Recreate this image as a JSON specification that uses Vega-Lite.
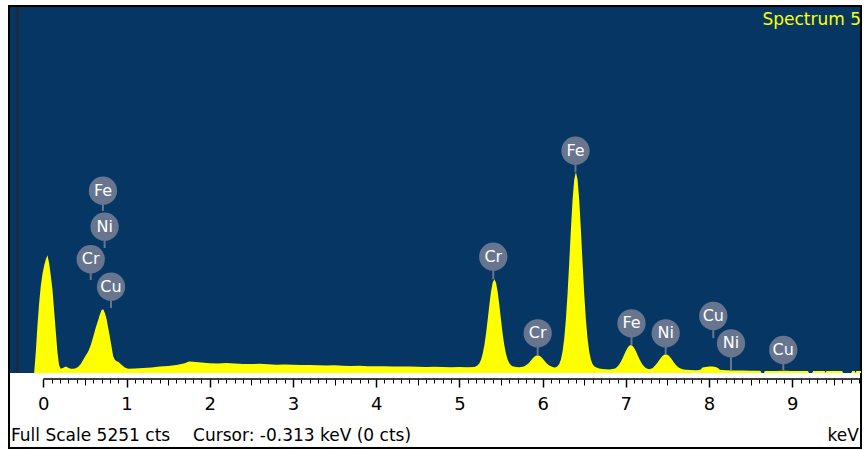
{
  "$schema": "https://vega.github.io/schema/vega-lite/v6.json",
  "width": 852,
  "height": 442,
  "autosize": {"type": "none"},
  "padding": {"left": 9, "top": 6, "right": 3, "bottom": 2},
  "background": "#ffffff",
  "config": {"view": {"stroke": "#000000", "strokeWidth": 2, "fill": "#ffffff"}},
  "datasets": {
    "spectrum": [
      {"keV": -0.41, "cts": 0}, {"keV": -0.11, "cts": 0}, {"keV": -0.09, "cts": 300}, {"keV": -0.07, "cts": 680},
      {"keV": -0.05, "cts": 1000}, {"keV": -0.03, "cts": 1250}, {"keV": -0.01, "cts": 1420}, {"keV": 0.01, "cts": 1540},
      {"keV": 0.03, "cts": 1630}, {"keV": 0.05, "cts": 1690}, {"keV": 0.07, "cts": 1580}, {"keV": 0.09, "cts": 1400},
      {"keV": 0.11, "cts": 1200}, {"keV": 0.13, "cts": 900}, {"keV": 0.15, "cts": 600}, {"keV": 0.17, "cts": 300},
      {"keV": 0.19, "cts": 110}, {"keV": 0.21, "cts": 60}, {"keV": 0.24, "cts": 75}, {"keV": 0.27, "cts": 95},
      {"keV": 0.30, "cts": 75}, {"keV": 0.33, "cts": 60}, {"keV": 0.36, "cts": 62}, {"keV": 0.39, "cts": 70},
      {"keV": 0.42, "cts": 90}, {"keV": 0.45, "cts": 130}, {"keV": 0.48, "cts": 190}, {"keV": 0.51, "cts": 250},
      {"keV": 0.54, "cts": 310}, {"keV": 0.57, "cts": 400}, {"keV": 0.60, "cts": 520}, {"keV": 0.63, "cts": 650},
      {"keV": 0.66, "cts": 760}, {"keV": 0.68, "cts": 840}, {"keV": 0.70, "cts": 905}, {"keV": 0.72, "cts": 916},
      {"keV": 0.74, "cts": 860}, {"keV": 0.76, "cts": 780}, {"keV": 0.78, "cts": 650}, {"keV": 0.80, "cts": 520},
      {"keV": 0.82, "cts": 380}, {"keV": 0.84, "cts": 240}, {"keV": 0.86, "cts": 190}, {"keV": 0.88, "cts": 170},
      {"keV": 0.90, "cts": 160}, {"keV": 0.94, "cts": 120}, {"keV": 0.98, "cts": 80}, {"keV": 1.02, "cts": 62},
      {"keV": 1.1, "cts": 66}, {"keV": 1.2, "cts": 72}, {"keV": 1.3, "cts": 80}, {"keV": 1.4, "cts": 92},
      {"keV": 1.5, "cts": 100}, {"keV": 1.6, "cts": 115}, {"keV": 1.7, "cts": 140}, {"keV": 1.75, "cts": 165},
      {"keV": 1.8, "cts": 160}, {"keV": 1.9, "cts": 150}, {"keV": 2.0, "cts": 140}, {"keV": 2.1, "cts": 135},
      {"keV": 2.2, "cts": 142}, {"keV": 2.3, "cts": 138}, {"keV": 2.4, "cts": 130}, {"keV": 2.5, "cts": 128},
      {"keV": 2.6, "cts": 132}, {"keV": 2.7, "cts": 125}, {"keV": 2.8, "cts": 120}, {"keV": 2.9, "cts": 122},
      {"keV": 3.0, "cts": 118}, {"keV": 3.1, "cts": 114}, {"keV": 3.2, "cts": 116}, {"keV": 3.3, "cts": 110},
      {"keV": 3.4, "cts": 108}, {"keV": 3.5, "cts": 110}, {"keV": 3.6, "cts": 104}, {"keV": 3.7, "cts": 102},
      {"keV": 3.8, "cts": 105}, {"keV": 3.9, "cts": 98}, {"keV": 4.0, "cts": 96}, {"keV": 4.1, "cts": 98},
      {"keV": 4.2, "cts": 94}, {"keV": 4.3, "cts": 92}, {"keV": 4.4, "cts": 95}, {"keV": 4.5, "cts": 90},
      {"keV": 4.6, "cts": 88}, {"keV": 4.7, "cts": 90}, {"keV": 4.8, "cts": 86}, {"keV": 4.9, "cts": 84},
      {"keV": 5.0, "cts": 88}, {"keV": 5.1, "cts": 84}, {"keV": 5.18, "cts": 86},
      {"keV": 5.20, "cts": 97}, {"keV": 5.22, "cts": 112}, {"keV": 5.24, "cts": 140}, {"keV": 5.26, "cts": 192},
      {"keV": 5.28, "cts": 275}, {"keV": 5.30, "cts": 399}, {"keV": 5.32, "cts": 565}, {"keV": 5.34, "cts": 765},
      {"keV": 5.36, "cts": 976}, {"keV": 5.38, "cts": 1165}, {"keV": 5.40, "cts": 1297}, {"keV": 5.42, "cts": 1345},
      {"keV": 5.44, "cts": 1297}, {"keV": 5.46, "cts": 1165}, {"keV": 5.48, "cts": 976}, {"keV": 5.50, "cts": 765},
      {"keV": 5.52, "cts": 565}, {"keV": 5.54, "cts": 399}, {"keV": 5.56, "cts": 275}, {"keV": 5.58, "cts": 192},
      {"keV": 5.60, "cts": 140}, {"keV": 5.62, "cts": 112}, {"keV": 5.64, "cts": 97}, {"keV": 5.68, "cts": 88},
      {"keV": 5.72, "cts": 84}, {"keV": 5.76, "cts": 90}, {"keV": 5.78, "cts": 98}, {"keV": 5.80, "cts": 111},
      {"keV": 5.82, "cts": 129}, {"keV": 5.84, "cts": 152}, {"keV": 5.86, "cts": 179}, {"keV": 5.88, "cts": 207},
      {"keV": 5.90, "cts": 232}, {"keV": 5.92, "cts": 249}, {"keV": 5.94, "cts": 255}, {"keV": 5.96, "cts": 249},
      {"keV": 5.98, "cts": 232}, {"keV": 6.00, "cts": 207}, {"keV": 6.02, "cts": 179}, {"keV": 6.04, "cts": 152},
      {"keV": 6.06, "cts": 127}, {"keV": 6.08, "cts": 109}, {"keV": 6.10, "cts": 96}, {"keV": 6.12, "cts": 88},
      {"keV": 6.14, "cts": 80}, {"keV": 6.16, "cts": 81}, {"keV": 6.18, "cts": 96}, {"keV": 6.20, "cts": 129},
      {"keV": 6.22, "cts": 194}, {"keV": 6.24, "cts": 308}, {"keV": 6.26, "cts": 495}, {"keV": 6.28, "cts": 771},
      {"keV": 6.30, "cts": 1142}, {"keV": 6.32, "cts": 1587}, {"keV": 6.34, "cts": 2060}, {"keV": 6.36, "cts": 2482},
      {"keV": 6.38, "cts": 2777}, {"keV": 6.40, "cts": 2884}, {"keV": 6.42, "cts": 2777}, {"keV": 6.44, "cts": 2482},
      {"keV": 6.46, "cts": 2060}, {"keV": 6.48, "cts": 1587}, {"keV": 6.50, "cts": 1142}, {"keV": 6.52, "cts": 771},
      {"keV": 6.54, "cts": 495}, {"keV": 6.56, "cts": 308}, {"keV": 6.58, "cts": 194}, {"keV": 6.60, "cts": 129},
      {"keV": 6.62, "cts": 96}, {"keV": 6.64, "cts": 81}, {"keV": 6.68, "cts": 65}, {"keV": 6.72, "cts": 58},
      {"keV": 6.76, "cts": 55}, {"keV": 6.80, "cts": 50}, {"keV": 6.86, "cts": 61}, {"keV": 6.88, "cts": 73},
      {"keV": 6.90, "cts": 93}, {"keV": 6.92, "cts": 122}, {"keV": 6.94, "cts": 161}, {"keV": 6.96, "cts": 208},
      {"keV": 6.98, "cts": 262}, {"keV": 7.00, "cts": 315}, {"keV": 7.02, "cts": 360}, {"keV": 7.04, "cts": 391},
      {"keV": 7.06, "cts": 402}, {"keV": 7.08, "cts": 391}, {"keV": 7.10, "cts": 360}, {"keV": 7.12, "cts": 315},
      {"keV": 7.14, "cts": 262}, {"keV": 7.16, "cts": 208}, {"keV": 7.18, "cts": 161}, {"keV": 7.20, "cts": 122},
      {"keV": 7.22, "cts": 93}, {"keV": 7.24, "cts": 73}, {"keV": 7.26, "cts": 61}, {"keV": 7.28, "cts": 55},
      {"keV": 7.30, "cts": 60}, {"keV": 7.32, "cts": 70}, {"keV": 7.34, "cts": 94}, {"keV": 7.36, "cts": 118},
      {"keV": 7.38, "cts": 148}, {"keV": 7.40, "cts": 182}, {"keV": 7.42, "cts": 215}, {"keV": 7.44, "cts": 243},
      {"keV": 7.46, "cts": 263}, {"keV": 7.48, "cts": 270}, {"keV": 7.50, "cts": 263}, {"keV": 7.52, "cts": 243},
      {"keV": 7.54, "cts": 215}, {"keV": 7.56, "cts": 182}, {"keV": 7.58, "cts": 148}, {"keV": 7.60, "cts": 118},
      {"keV": 7.62, "cts": 94}, {"keV": 7.64, "cts": 75}, {"keV": 7.66, "cts": 63}, {"keV": 7.68, "cts": 55},
      {"keV": 7.72, "cts": 45}, {"keV": 7.78, "cts": 42}, {"keV": 7.84, "cts": 40}, {"keV": 7.88, "cts": 42},
      {"keV": 7.90, "cts": 50}, {"keV": 7.92, "cts": 80}, {"keV": 7.96, "cts": 85}, {"keV": 8.00, "cts": 95},
      {"keV": 8.04, "cts": 95}, {"keV": 8.08, "cts": 85}, {"keV": 8.11, "cts": 70}, {"keV": 8.13, "cts": 45},
      {"keV": 8.2, "cts": 38}, {"keV": 8.3, "cts": 36}, {"keV": 8.4, "cts": 35}, {"keV": 8.5, "cts": 33},
      {"keV": 8.6, "cts": 32}, {"keV": 8.62, "cts": 30}, {"keV": 8.63, "cts": 0}, {"keV": 8.66, "cts": 0},
      {"keV": 8.67, "cts": 30}, {"keV": 8.8, "cts": 30}, {"keV": 8.9, "cts": 32}, {"keV": 9.0, "cts": 30},
      {"keV": 9.1, "cts": 30}, {"keV": 9.19, "cts": 30}, {"keV": 9.2, "cts": 0}, {"keV": 9.24, "cts": 0},
      {"keV": 9.25, "cts": 30}, {"keV": 9.39, "cts": 30}, {"keV": 9.40, "cts": 0}, {"keV": 9.41, "cts": 30},
      {"keV": 9.60, "cts": 30}, {"keV": 9.61, "cts": 0}, {"keV": 9.71, "cts": 0}, {"keV": 9.72, "cts": 30},
      {"keV": 9.75, "cts": 30}, {"keV": 9.76, "cts": 0}, {"keV": 9.77, "cts": 30}, {"keV": 9.826, "cts": 30}
    ],
    "labels": [
      {"el": "Fe", "keV": 0.717, "cts": 2616, "cts2": 2325},
      {"el": "Ni", "keV": 0.737, "cts": 2099, "cts2": 1794},
      {"el": "Cr", "keV": 0.570, "cts": 1632, "cts2": 1335},
      {"el": "Cu", "keV": 0.814, "cts": 1238, "cts2": 933},
      {"el": "Cr", "keV": 5.407, "cts": 1669, "cts2": 1345},
      {"el": "Cr", "keV": 5.941, "cts": 570, "cts2": 250},
      {"el": "Fe", "keV": 6.395, "cts": 3190, "cts2": 2884},
      {"el": "Fe", "keV": 7.068, "cts": 713, "cts2": 400},
      {"el": "Ni", "keV": 7.479, "cts": 570, "cts2": 265},
      {"el": "Cu", "keV": 8.051, "cts": 818, "cts2": 500},
      {"el": "Ni", "keV": 8.264, "cts": 426, "cts2": 40},
      {"el": "Cu", "keV": 8.892, "cts": 330, "cts2": 40}
    ]
  },
  "encoding": {
    "x": {"field": "keV", "type": "quantitative", "scale": {"domain": [-0.412, 9.826], "nice": false, "zero": false}, "axis": null},
    "y": {"field": "cts", "type": "quantitative", "scale": {"domain": [-1076, 5266], "nice": false, "zero": false}, "axis": null}
  },
  "resolve": {"axis": {"x": "independent"}},
  "layer": [
    {
      "data": {"values": [{"keV": -0.40, "keV2": 9.814, "cts": 0, "cts2": 5251}]},
      "mark": {"type": "rect", "color": "#063764"},
      "encoding": {"x2": {"field": "keV2"}, "y2": {"field": "cts2"}}
    },
    {
      "data": {"values": [{"keV": -0.313, "cts": 0, "cts2": 5251}]},
      "mark": {"type": "rule", "color": "#1d2a3a", "strokeWidth": 3},
      "encoding": {"y2": {"field": "cts2"}}
    },
    {
      "data": {"name": "spectrum"},
      "mark": {"type": "area", "color": "#FFFF00", "interpolate": "linear", "clip": true},
      "encoding": {
        "x": {"field": "keV", "type": "quantitative", "scale": {"domain": [-0.412, 9.826], "nice": false, "zero": false},
          "axis": {"values": [0, 1, 2, 3, 4, 5, 6, 7, 8, 9], "orient": "bottom", "offset": -69, "domain": false, "grid": false,
            "tickSize": 8, "tickColor": "#000000", "tickWidth": 1.5, "labelFont": "DejaVu Sans", "labelFontSize": 18,
            "labelColor": "#000000", "labelPadding": 8, "title": null, "labelFlush": false, "labelOverlap": false, "format": "d"}},
        "y2": {"datum": 0}
      }
    },
    {
      "data": {"name": "labels"},
      "mark": {"type": "rule", "color": "#67758f", "strokeWidth": 2},
      "encoding": {
        "x": {"field": "keV", "type": "quantitative", "scale": {"domain": [-0.412, 9.826], "nice": false, "zero": false},
          "axis": {"values": [0.5, 1.5, 2.5, 3.5, 4.5, 5.5, 6.5, 7.5, 8.5, 9.5], "orient": "bottom", "offset": -69, "domain": false, "grid": false,
            "tickSize": 6, "tickColor": "#000000", "tickWidth": 1, "labels": false, "title": null}},
        "y2": {"field": "cts2"}
      }
    },
    {
      "data": {"name": "labels"},
      "mark": {"type": "point", "shape": "circle", "filled": true, "size": 800, "color": "#67758f", "opacity": 1},
      "encoding": {
        "x": {"field": "keV", "type": "quantitative", "scale": {"domain": [-0.412, 9.826], "nice": false, "zero": false},
          "axis": {"values": [0.1, 0.2, 0.3, 0.4, 0.6, 0.7, 0.8, 0.9, 1.1, 1.2, 1.3, 1.4, 1.6, 1.7, 1.8, 1.9, 2.1, 2.2, 2.3, 2.4, 2.6, 2.7, 2.8, 2.9, 3.1, 3.2, 3.3, 3.4, 3.6, 3.7, 3.8, 3.9, 4.1, 4.2, 4.3, 4.4, 4.6, 4.7, 4.8, 4.9, 5.1, 5.2, 5.3, 5.4, 5.6, 5.7, 5.8, 5.9, 6.1, 6.2, 6.3, 6.4, 6.6, 6.7, 6.8, 6.9, 7.1, 7.2, 7.3, 7.4, 7.6, 7.7, 7.8, 7.9, 8.1, 8.2, 8.3, 8.4, 8.6, 8.7, 8.8, 8.9, 9.1, 9.2, 9.3, 9.4, 9.6, 9.7, 9.8],
            "orient": "bottom", "offset": -69, "domain": false, "grid": false,
            "tickSize": 4, "tickColor": "#000000", "tickWidth": 1, "labels": false, "title": null}}
      }
    },
    {
      "data": {"name": "labels"},
      "mark": {"type": "text", "color": "#ffffff", "font": "DejaVu Sans", "fontSize": 16, "align": "center", "baseline": "middle"},
      "encoding": {"text": {"field": "el"}}
    },
    {
      "data": {"values": [{"keV": 0, "keV2": 9.826, "cts": -86}]},
      "mark": {"type": "rule", "color": "#000000", "strokeWidth": 1.5},
      "encoding": {"x2": {"field": "keV2"}}
    },
    {
      "data": {"values": [{"t": "Spectrum 5", "keV": 9.826, "cts": 5066}]},
      "mark": {"type": "text", "color": "#FFFF00", "font": "DejaVu Sans", "fontSize": 17, "align": "right", "baseline": "middle"},
      "encoding": {"text": {"field": "t"}}
    },
    {
      "data": {"values": [{"t": "Full Scale 5251 cts", "keV": -0.388, "cts": -904}, {"t": "Cursor: -0.313 keV (0 cts)", "keV": 1.8, "cts": -904}]},
      "mark": {"type": "text", "color": "#000000", "font": "DejaVu Sans", "fontSize": 17, "align": "left", "baseline": "middle"},
      "encoding": {"text": {"field": "t"}}
    },
    {
      "data": {"values": [{"t": "keV", "keV": 9.8, "cts": -904}]},
      "mark": {"type": "text", "color": "#000000", "font": "DejaVu Sans", "fontSize": 17, "align": "right", "baseline": "middle"},
      "encoding": {"text": {"field": "t"}}
    }
  ]
}
